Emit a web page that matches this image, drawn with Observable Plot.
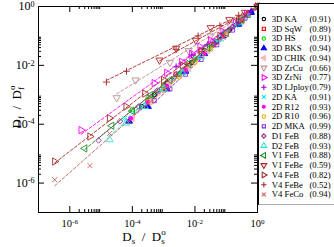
<!DOCTYPE html>
<html><head><meta charset="utf-8">
<script src="https://cdn.jsdelivr.net/npm/d3@7"></script>
<script src="https://cdn.jsdelivr.net/npm/@observablehq/plot@0.6"></script>
<style>
html,body{margin:0;padding:0;background:#fff;overflow:hidden;}
#wrap{position:relative;width:334px;height:247px;overflow:hidden;}
#chart{position:absolute;left:0;top:0;}
#legend{position:absolute;left:258px;top:3px;}
</style></head><body><div id="wrap"><div id="chart"></div><div id="legend"></div></div>
<script>
// ---- legend / categories ----
const names = ["3D KA","3D SqW","3D HS","3D BKS","3D CHIK","3D ZrCu","3D ZrNi","3D LJploy",
  "2D KA","2D R12","2D R10","2D MKA","D1 FeB","D2 FeB","V1 FeB","V1 FeBe","V4 FeB","V4 FeBe","V4 FeCo"];
const exponents = [0.91,0.89,0.91,0.94,0.94,0.66,0.77,0.79,0.91,0.93,0.96,0.99,0.88,0.93,0.88,0.59,0.82,0.52,0.94];
// ---- tick values ----
const majorTicks = [1e-6, 1e-4, 1e-2, 1];
const minorMult = [2,3,4,5,6,7,8,9];
// ---- series values (Ds/Ds0 , Df/Df0) ----
const ka3d_x = [2.0e-4,5.0e-4,1.26e-3,3.16e-3,7.9e-3,0.02,0.05,0.126,0.316,0.63,1];
const ka3d_y = [4.0e-4,1.0e-3,2.5e-3,5.0e-3,0.0126,0.0316,0.063,0.158,0.316,0.63,1];
const sqw3d_x = [3.16e-4,1e-3,2.5e-3,6.3e-3,0.0158,0.04,0.1,0.25,0.5,1];
const sqw3d_y = [6.3e-4,2.0e-3,5.0e-3,0.01,0.025,0.05,0.126,0.316,0.5,1];
const hs3d_x = [1e-4,3.16e-4,1e-3,3.16e-3,0.01,0.0316,0.1,0.25,0.5,1];
const hs3d_y = [3.16e-4,7.9e-4,2.0e-3,5.0e-3,0.0158,0.04,0.126,0.25,0.5,1];
const bks3d_x = [7.9e-5,3.16e-4,1.26e-3,5.0e-3,0.02,0.079,0.25,0.63,1];
const bks3d_y = [1.26e-4,4.0e-4,1.58e-3,6.3e-3,0.025,0.1,0.25,0.63,1];
const chik3d_x = [1e-4,4.0e-4,1.58e-3,6.3e-3,0.025,0.1,0.316,1];
const chik3d_y = [1.58e-4,6.3e-4,2.5e-3,7.9e-3,0.0316,0.126,0.316,1];
const zrcu3d_x = [3.16e-5,1.26e-4,1.58e-3,6.3e-3,0.0316,0.126,0.4,1];
const zrcu3d_y = [7.9e-4,3.16e-3,0.0126,0.0316,0.1,0.25,0.5,1];
const zrni3d_x = [2.3e-6,5e-4,1.26e-3,3.8e-3,7.9e-3,0.0145,0.0316,0.079,0.2,0.45,1];
const zrni3d_y = [6.3e-5,2.5e-3,5.6e-3,0.0132,0.025,0.043,0.071,0.141,0.28,0.56,1];
const ljploy3d_x = [2.5e-3,7.9e-3,0.025,0.079,0.25,0.63,1];
const ljploy3d_y = [8.9e-3,0.0224,0.05,0.126,0.316,0.71,1];
const ka2d_x = [5.6e-5,2e-4,7.9e-4,3.16e-3,0.0126,0.05,0.2,0.5,1];
const ka2d_y = [1.58e-4,4e-4,1.4e-3,5e-3,0.0178,0.063,0.224,0.5,1];
const r12_x = [8.9e-5,3.16e-4,1.26e-3,5e-3,0.02,0.079,0.316,1];
const r12_y = [1.58e-4,5.6e-4,2e-3,7.1e-3,0.025,0.1,0.355,1];
const r10_x = [4e-4,1e-3,3.16e-3,0.01,0.0316,0.1,0.316,1];
const r10_y = [5.6e-4,1.4e-3,4e-3,0.0126,0.035,0.112,0.316,1];
const mka_x = [5e-4,1.58e-3,5e-3,0.0158,0.05,0.158,0.4,1];
const mka_y = [6.3e-4,1.58e-3,5e-3,0.0158,0.05,0.158,0.4,1];
const d1feb_x = [8.3e-6,4.0e-5,1.58e-4,6.3e-4,2.5e-3,0.01,0.04,0.158,0.5,1];
const d1feb_y = [2.8e-5,1.26e-4,4e-4,1.4e-3,5e-3,0.0178,0.056,0.2,0.56,1];
const d2feb_x = [1.86e-5,6.3e-5,2.5e-4,1e-3,4e-3,0.0158,0.063,0.25,1];
const d2feb_y = [3.0e-5,1.1e-4,4e-4,1.58e-3,5.6e-3,0.02,0.079,0.28,1];
const v1feb_x = [3.0e-6,2.2e-5,1e-4,4e-4,1.58e-3,6.3e-3,0.025,0.1,0.316,1];
const v1feb_y = [1.5e-5,8.9e-5,2.8e-4,1e-3,3.16e-3,0.0112,0.04,0.126,0.355,1];
const v1febe_x = [7.4e-4,2.5e-3,0.0107,0.032,0.126,0.4,1];
const v1febe_y = [0.015,0.038,0.071,0.19,0.355,0.63,1];
const v4feb_x = [3.3e-7,4.4e-6,1.86e-5,6.3e-5,2.5e-4,1e-3,4e-3,0.0158,0.063,0.25,1];
const v4feb_y = [5.4e-6,3.8e-5,1.6e-4,4.0e-4,1.1e-3,3.2e-3,0.01,0.0316,0.1,0.316,1];
const v4febe_x = [1.48e-5,6.5e-5,2.5e-3,0.0126,0.063,0.25,1];
const v4febe_y = [2.7e-3,6.3e-3,0.035,0.1,0.224,0.5,1];
const v4feco_x = [3.3e-7,4.4e-6,1.86e-5,7.9e-5,3.16e-4,1.26e-3,5.0e-3,0.02,0.079,0.316,1];
const v4feco_y = [1.3e-6,3.9e-6,4.8e-5,1.26e-4,5.0e-4,1.8e-3,7.1e-3,0.025,0.089,0.355,1];

const xs = [ka3d_x,sqw3d_x,hs3d_x,bks3d_x,chik3d_x,zrcu3d_x,zrni3d_x,ljploy3d_x,ka2d_x,r12_x,r10_x,mka_x,d1feb_x,d2feb_x,v1feb_x,v1febe_x,v4feb_x,v4febe_x,v4feco_x];
const ys = [ka3d_y,sqw3d_y,hs3d_y,bks3d_y,chik3d_y,zrcu3d_y,zrni3d_y,ljploy3d_y,ka2d_y,r12_y,r10_y,mka_y,d1feb_y,d2feb_y,v1feb_y,v1febe_y,v4feb_y,v4febe_y,v4feco_y];

// ---- styles ----
const styles = [
  {color:"#000000", symbol:"circle", rotate:0, filled:false, r:2.2},
  {color:"#ff0000", symbol:"square", rotate:0, filled:false, r:2.3},
  {color:"#00dd00", symbol:"circle", rotate:0, filled:false, r:2.2},
  {color:"#0000ff", symbol:"triangle", rotate:0, filled:true, r:2.5},
  {color:"#ffb6c1", symbol:"triangle", rotate:-90, filled:true, r:2.5},
  {color:"#bc8f8f", symbol:"triangle", rotate:180, filled:false, r:2.7},
  {color:"#ff00ff", symbol:"triangle", rotate:90, filled:false, r:2.7},
  {color:"#9400d3", symbol:"plus", rotate:0, filled:false, r:2.4},
  {color:"#00e8f0", symbol:"times", rotate:0, filled:false, r:2.4},
  {color:"#ff00ff", symbol:"circle", rotate:0, filled:true, r:1.9},
  {color:"#ffa500", symbol:"circle", rotate:0, filled:false, r:2.2},
  {color:"#8a2be2", symbol:"square", rotate:0, filled:false, r:2.3},
  {color:"#9b2d8f", symbol:"diamond2", rotate:0, filled:false, r:2.5},
  {color:"#40e0d0", symbol:"triangle", rotate:0, filled:false, r:2.7},
  {color:"#228b22", symbol:"triangle", rotate:-90, filled:false, r:2.7},
  {color:"#b22222", symbol:"triangle", rotate:180, filled:false, r:2.7},
  {color:"#a52a2a", symbol:"triangle", rotate:90, filled:false, r:2.7},
  {color:"#a52a2a", symbol:"plus", rotate:0, filled:false, r:2.4},
  {color:"#cd5c5c", symbol:"times", rotate:0, filled:false, r:2.4}
];

const series = names.map((name, i) => ({
  name, xi: exponents[i], ...styles[i],
  points: xs[i].map((x, j) => ({x, y: ys[i][j]}))
}));

const W = 334, H = 247, mL = 38, mR = 77, mT = 6, mB = 35;
const innerW = W - mL - mR, innerH = H - mT - mB;
const minorTicks = majorTicks.flatMap(t => minorMult.map(m => m * t)).filter(v => v < 1);
const fmt = d => "10^" + Math.round(Math.log10(d));

const marks = [];
// dashed power-law fits D_f ~ D_s^xi
for (const s of series) {
  const x0 = d3.min(s.points, d => d.x);
  const fit = [x0, 1].map(x => ({x, y: Math.pow(x, s.xi)}));
  marks.push(Plot.line(fit, {x: "x", y: "y", stroke: s.color, strokeWidth: 0.9, strokeDasharray: "3,2"}));
}
for (const s of series) {
  marks.push(Plot.dot(s.points, {x: "x", y: "y", symbol: s.symbol, r: s.r, rotate: s.rotate,
    stroke: s.color, fill: s.filled ? s.color : "none", strokeWidth: 0.9}));
}
// inward ticks on four sides
const tk = (vals, len) => [
  Plot.tickX(vals, {x: d => d, insetTop: innerH - len, stroke: "black"}),
  Plot.tickX(vals, {x: d => d, insetBottom: innerH - len, stroke: "black"}),
  Plot.tickY(vals, {y: d => d, insetRight: innerW - len, stroke: "black"}),
  Plot.tickY(vals, {y: d => d, insetLeft: innerW - len, stroke: "black"})
];
marks.push(...tk(majorTicks, 6), ...tk(minorTicks, 3));
marks.push(Plot.frame({stroke: "black", strokeWidth: 1}));
marks.push(Plot.axisX({ticks: majorTicks, tickSize: 0, tickPadding: 7, tickFormat: fmt, label: null, fontSize: 10.5}));
marks.push(Plot.axisY({ticks: majorTicks, tickSize: 0, tickPadding: 4, tickFormat: fmt, label: null, fontSize: 12}));

const chart = Plot.plot({
  width: W, height: H, marginLeft: mL, marginRight: mR, marginTop: mT, marginBottom: mB,
  style: {fontFamily: "Liberation Serif", background: "transparent", color: "black"},
  x: {type: "log", domain: [1e-7, 1]},
  y: {type: "log", domain: [1e-7, 1]},
  marks
});

function supify(svg) {
  d3.select(svg).selectAll('g[aria-label="x-axis tick label"] text, g[aria-label="y-axis tick label"] text').each(function() {
    const m = this.textContent.match(/^10\^(.*)$/);
    if (!m) return;
    const sel = d3.select(this);
    sel.text(null);
    sel.append("tspan").text("10");
    sel.append("tspan").attr("dy", "-0.45em").attr("font-size", "0.68em").text(m[1]);
  });
}
supify(chart);

const svg = d3.select(chart);
// axis titles
const xt = svg.append("text").attr("x", 144).attr("y", 241).attr("text-anchor", "middle")
  .attr("font-family", "Liberation Serif").attr("font-size", 13).attr("fill", "black");
xt.append("tspan").text("D");
xt.append("tspan").attr("dy", 3).attr("font-size", 9).text("s");
xt.append("tspan").attr("dy", -3).text("  /  D");
xt.append("tspan").attr("dy", 3).attr("font-size", 9).text("s");
xt.append("tspan").attr("dx", -3.5).attr("dy", -9).attr("font-size", 9).text("o");

const yt = svg.append("text").attr("transform", "translate(21,107) rotate(-90)").attr("text-anchor", "middle")
  .attr("font-family", "Liberation Serif").attr("font-size", 13).attr("fill", "black");
yt.append("tspan").text("D");
yt.append("tspan").attr("dy", 3).attr("font-size", 9).text("f");
yt.append("tspan").attr("dy", -3).text("  /  D");
yt.append("tspan").attr("dy", 3).attr("font-size", 9).text("f");
yt.append("tspan").attr("dx", -3).attr("dy", -9).attr("font-size", 9).text("o");

document.getElementById("chart").append(chart);

// ---- legend ----
const LW = 78, LH = 207;
const legendMarks = [Plot.frame({stroke: "black", fill: "white", strokeWidth: 1})];
for (const s of series) {
  legendMarks.push(Plot.dot([s], {y: "name", frameAnchor: "left", dx: 5.5, symbol: s.symbol,
    r: s.r * 0.8, rotate: s.rotate, stroke: s.color, fill: s.filled ? s.color : "none", strokeWidth: 1.1}));
}
legendMarks.push(Plot.text(series, {y: "name", text: "name", frameAnchor: "left", dx: 13.5, textAnchor: "start", fill: "black"}));
legendMarks.push(Plot.text(series, {y: "name", text: d => `(${d.xi.toFixed(2)})`, frameAnchor: "right", dx: -4, textAnchor: "end", fill: "black"}));
const legend = Plot.plot({
  width: LW, height: LH, margin: 0,
  style: {fontFamily: "Liberation Serif", fontSize: "9px", background: "transparent"},
  y: {type: "point", domain: names, range: [11, 201], axis: null},
  marks: legendMarks
});
document.getElementById("legend").append(legend);
</script>
</body></html>
